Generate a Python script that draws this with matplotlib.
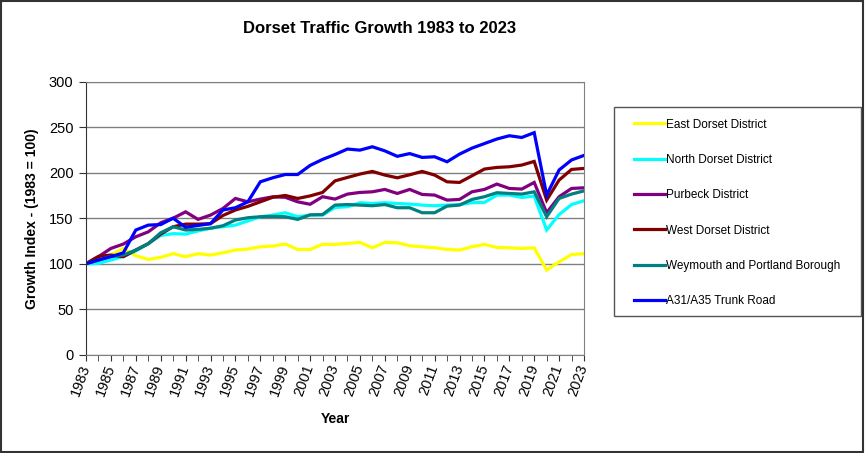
import numpy as np
import matplotlib.pyplot as plt
from matplotlib.patches import Rectangle
from matplotlib.ticker import MultipleLocator

plt.rcParams['font.family'] = ['Liberation Sans', 'DejaVu Sans']

years = list(range(1983, 2024))

east_dorset = [100, 104, 109.5, 116.8, 108.7, 104.7, 107, 111, 107.7, 111, 109.5, 112, 115, 116, 118.6,
               119.4, 121.6, 115.7, 115.7, 121.2, 121.2, 122.3, 123.4, 117.5, 123.4, 123, 119.7, 118.6,
               117.5, 115.7, 115, 118.6, 121.2, 117.9, 117.5, 116.8, 117.5, 93, 102, 110, 111]
north_dorset = [100, 100.3, 104, 108, 114, 122, 131, 133, 132.5, 136, 139, 140.6, 142.4, 147, 151.6,
                153.4, 156, 151.6, 153.4, 153.4, 161.8, 162.6, 167, 166.2, 167, 166.2, 165.5, 164.4,
                163.7, 164.4, 165, 167, 167.3, 175.4, 175.4, 172.8, 174.3, 137, 154, 165, 169.2]
purbeck = [100, 107.7, 116.8, 121.6, 129.6, 135, 145, 150, 157, 148.7, 153.4, 160.7, 171.7, 168, 171,
           173.5, 173, 168, 165.3, 173.6, 171, 176.5, 178.3, 179, 181.6, 177.2, 181.6, 176.1, 175.4,
           169.9, 170.6, 179, 181.6, 187.5, 182.7, 182, 189.3, 156, 173.6, 182.7, 183.4]
west_dorset = [100, 108, 109.5, 107.7, 115, 122, 132.5, 140.6, 143.5, 143.5, 144, 153, 159, 163, 168,
               173, 175, 171.7, 174.5, 178.3, 191, 194.8, 198.5, 201.4, 197.4, 194.4, 197.7, 201.4,
               197.4, 190, 189.3, 196.6, 204, 205.8, 206.5, 208.4, 212.4, 169.9, 191.9, 203.6, 204.7]
weymouth = [100, 104, 108, 109.5, 115, 122, 134, 140.6, 137, 137.7, 139, 141.7, 148, 150.5, 151.6,
            152, 151.6, 148.7, 153.7, 154, 164.4, 165, 164.4, 163.7, 165, 161.5, 161.5, 156, 156,
            163.3, 164.4, 170.6, 173.6, 178, 177.2, 176.5, 179, 151.6, 171.7, 176.5, 180]
trunk_road = [100, 104, 107.7, 112, 137, 142.4, 143, 150, 140, 142, 144, 159, 161.5, 168, 190, 194.4,
              198, 198, 208, 214.6, 220, 226, 224.8, 228.5, 224, 218, 221, 216.8, 217.5, 212, 220.4,
              227, 232, 237, 240.6, 238.7, 244, 175.4, 203, 214, 219]

series = [
    ('East Dorset District', east_dorset, '#FFFF00'),
    ('North Dorset District', north_dorset, '#00FFFF'),
    ('Purbeck District', purbeck, '#800080'),
    ('West Dorset District', west_dorset, '#800000'),
    ('Weymouth and Portland Borough', weymouth, '#008080'),
    ('A31/A35 Trunk Road', trunk_road, '#0000FF'),
]

W, H = 865, 453
fig = plt.figure(figsize=(W / 100, H / 100), dpi=100)
ax = fig.add_axes([86 / W, 1 - 354.7 / H, (584 - 86) / W, (354.7 - 81.7) / H])

handles = []
for name, vals, col in series:
    ln, = ax.plot(years, vals, color=col, lw=2.3, label=name, solid_joinstyle='miter')
    handles.append(ln)

ax.set_xlim(1983, 2023)
ax.set_ylim(0, 300)
ax.yaxis.set_major_locator(MultipleLocator(50))
ax.xaxis.set_major_locator(MultipleLocator(2))
ax.xaxis.set_minor_locator(MultipleLocator(1))
ax.grid(axis='y', color='#808080', lw=1)
ax.set_axisbelow(True)

for s in ['top', 'right', 'bottom']:
    ax.spines[s].set_color('#808080')
ax.spines['left'].set_color('#333333')
ax.tick_params(axis='y', direction='out', length=5, color='#333333', labelsize=10.5, pad=4)
ax.tick_params(axis='x', which='both', direction='out', length=4, color='#333333', labelsize=10.5)
ax.set_xticks(range(1983, 2024, 2))
plt.setp(ax.get_xticklabels(), rotation=70, ha='right', va='center', rotation_mode='anchor')

ax.set_title('Dorset Traffic Growth 1983 to 2023', fontsize=12, fontweight='bold', pad=35, x=0.59)
ax.set_ylabel('Growth Index - (1983 = 100)', fontsize=10, fontweight='bold', labelpad=7)
ax.set_xlabel('Year', fontsize=10, fontweight='bold', labelpad=10)

# legend box
fig.patches.append(Rectangle((614 / W, 1 - 316 / H), 247 / W, 209 / H, transform=fig.transFigure,
                             fill=False, edgecolor='#555555', lw=1))
fig.legend(handles=handles, loc='upper left', bbox_to_anchor=(634 / W, 1 - 118.5 / H),
           frameon=False, fontsize=8.5, borderpad=0, labelspacing=1.98,
           handlelength=2.6, handletextpad=0.15, borderaxespad=0)

# outer border
fig.patches.append(Rectangle((0.001, 0.003), 0.997, 0.995, transform=fig.transFigure,
                             fill=False, edgecolor='#333333', lw=1.5))

fig.savefig('out.png', dpi=100)
